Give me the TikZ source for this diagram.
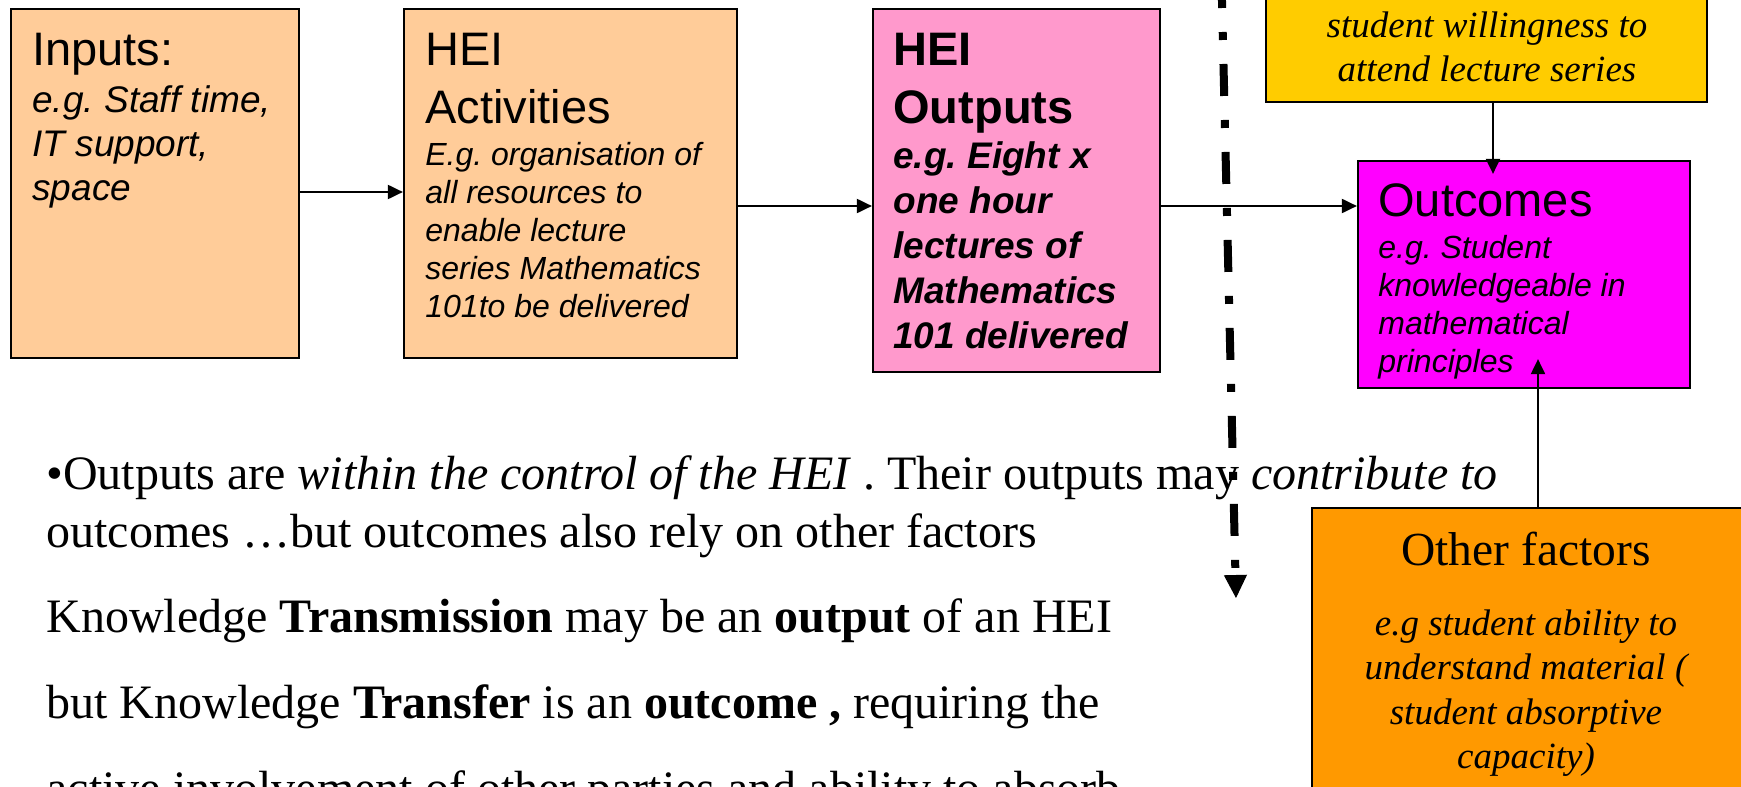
\documentclass[tikz,border=0pt]{standalone}
\usepackage{fontspec}
\setmainfont{Liberation Serif}
\newfontfamily\arial{Liberation Sans}
\usetikzlibrary{arrows.meta}
\frenchspacing
\definecolor{peach}{HTML}{FFCC99}
\definecolor{pinkbox}{HTML}{FF99CC}
\definecolor{goldbox}{HTML}{FFCC00}
\definecolor{magbox}{HTML}{FF00FF}
\definecolor{orangebox}{HTML}{FF9900}
\newcommand\fhead{\frenchspacing\arial\fontsize{23.5}{29}\selectfont}
\newcommand\fbodyL{\frenchspacing\arial\itshape\fontsize{18.5}{22.2}\selectfont}
\newcommand\fbodyS{\frenchspacing\arial\itshape\fontsize{16}{19.1}\selectfont}
\newcommand\fbodyB{\frenchspacing\arial\bfseries\itshape\fontsize{18.5}{22.5}\selectfont}
\newcommand\fserifI{\frenchspacing\itshape\fontsize{18.5}{22.3}\selectfont}
\newcommand\fserifH{\frenchspacing\fontsize{23.75}{28}\selectfont}
\newcommand\fmain{\frenchspacing\fontsize{24}{28}\selectfont}
\tikzset{
  box/.style={draw=black, line width=1.1pt, inner sep=0pt, rectangle},
  arr/.style={draw=black, line width=1pt, -{Triangle[width=7pt,length=7.5pt]}},
  txt/.style={inner sep=0pt, anchor=base west, align=flush left, text width=#1},
  ctxt/.style={inner sep=0pt, anchor=base, align=flush center, text width=#1},
  ltxt/.style={inner sep=0pt, anchor=base west},
  dashdot/.style={line width=4pt, dash pattern=on 16pt off 12pt on 4pt off 12pt,
    -{Triangle[width=11.5pt,length=11.5pt,line width=0.5pt]}}
}
\begin{document}
\begin{tikzpicture}[x=0.5pt,y=-0.5pt]
\useasboundingbox (0,0) rectangle (1741,787);
% boxes
\node[box, fill=peach, minimum width=144pt, minimum height=174.5pt] (inputs) at (155,183.5) {};
\node[box, fill=peach, minimum width=166.5pt, minimum height=174.5pt] (activities) at (570.5,183.5) {};
\node[box, fill=pinkbox, minimum width=143.5pt, minimum height=181.5pt] (outputs) at (1016.5,190.5) {};
\node[box, fill=goldbox, minimum width=220.5pt, minimum height=66pt] (yellow) at (1486.5,36) {};
\node[box, fill=magbox, minimum width=166pt, minimum height=113.5pt] (outcomes) at (1524,274.5) {};
\node[box, fill=orangebox, minimum width=217pt, minimum height=146pt] (other) at (1529,654) {};
% box texts
\node[txt=140pt, font=\fhead] (inH) at (32,65) {Inputs:};
\node[txt=140pt, font=\fbodyL] (inB) at (32,112) {e.g. Staff time,\\IT support,\\space};
\node[txt=160pt, font=\fhead] (acH) at (425,65) {HEI\\Activities};
\node[txt=160pt, font=\fbodyS] (acB) at (425,165) {E.g. organisation of\\all resources to\\enable lecture\\series Mathematics\\101to be delivered};
\node[txt=140pt, font=\fhead\bfseries] (ouH) at (893,65) {HEI\\Outputs};
\node[txt=140pt, font=\fbodyB] (ouB) at (893,168) {e.g. Eight x\\one hour\\lectures of\\Mathematics\\101 delivered};
\node[txt=160pt, font=\fhead] (ocH) at (1378,216) {Outcomes};
\node[txt=160pt, font=\fbodyS] (ocB) at (1378,258) {e.g. Student\\knowledgeable in\\mathematical\\principles};
\node[ctxt=215pt, font=\fserifI] (yeB) at (1487,37) {student willingness to\\attend lecture series};
\node[ctxt=210pt, font=\fserifH] (otH) at (1526,565) {Other factors};
\node[ctxt=210pt, font=\fserifI] (otB) at (1526,635) {e.g student ability to\\understand material (\\student absorptive\\capacity)};
% main text
\node[ltxt, font=\fmain] (t1) at (46,489) {•Outputs are \textit{within the control of the HEI} . Their outputs may \textit{contribute to}};
\node[ltxt, font=\fmain] (t2) at (46,547) {outcomes …but outcomes also rely on other factors};
\node[ltxt, font=\fmain] (t3) at (46,632) {Knowledge \textbf{Transmission} may be an \textbf{output} of an HEI};
\node[ltxt, font=\fmain] (t4) at (46,718) {but Knowledge \textbf{Transfer} is an \textbf{outcome ,} requiring the};
\node[ltxt, font=\fmain] (t5) at (46,804) {active involvement of other parties and ability to absorb};
% connectors
\draw[arr] ([yshift=-4.25pt]inputs.east) -- ([yshift=-4.25pt]activities.west);
\draw[arr] ([yshift=-11.25pt]activities.east) -- ([yshift=-7.75pt]outputs.west);
\draw[arr] ([yshift=-7.75pt]outputs.east) -- ([yshift=34.25pt]outcomes.west);
\draw[arr] ([xshift=3.25pt]yellow.south) -- ([xshift=-15.5pt,yshift=-7pt]outcomes.north);
\draw[arr] ([xshift=4.5pt]other.north) -- ([xshift=7pt,yshift=15pt]outcomes.south);
% dash-dot boundary
\coordinate (dtop) at (1221.4,-24);
\coordinate (dbot) at (1236,598);
\draw[dashdot] (dtop) -- (dbot);
\end{tikzpicture}
\end{document}
